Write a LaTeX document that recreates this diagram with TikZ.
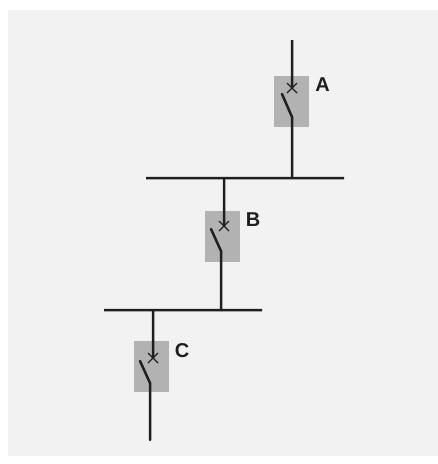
\documentclass[tikz,border=0pt]{standalone}
\usepackage{fontspec}
\setmainfont{Liberation Sans}
\tikzset{
  px/.style={x=1pt,y=-1pt},
  wire/.style={draw=black!88,line width=2.5pt},
  blade/.style={draw=black!88,line width=2.5pt,line cap=round},
  thin x/.style={draw=black!88,line width=1.3pt},
  breaker/.style={fill=black!30,draw=none,minimum width=35pt,minimum height=51pt,inner sep=0pt},
  tag/.style={font=\bfseries\fontsize{20pt}{20pt}\selectfont,text=black!88,inner sep=0pt}
}
\begin{document}
\begin{tikzpicture}[px]
\useasboundingbox (0,0) rectangle (438,464);
\fill[white] (0,0) rectangle (438,464);
\fill[black!5] (8,10) rectangle (438,456);
% breakers
\node[breaker] (ba) at (291.5,101.5) {};
\node[breaker] (bb) at (222.5,236.5) {};
\node[breaker] (bc) at (151.5,366.5) {};
% labels
\node[tag] (la) at (322.5,85) {A};
\node[tag] (lb) at (253,219.5) {B};
\node[tag] (lc) at (182,350.5) {C};
% bus coordinates
\coordinate (b1l) at (146,178);
\coordinate (b1r) at (344,178.06);
\coordinate (b2l) at (104,310);
\coordinate (b2r) at (262,310.06);
\draw[wire] (b1l) -- (b1r);
\draw[wire] (b2l) -- (b2r);
% A
\coordinate (at) at (292,40);
\coordinate (ax) at (292.06,88);
\coordinate (ah) at (292,117);
\coordinate (ab) at (282,94);
\coordinate (a1) at (292.06,178);
\draw[wire] (at) -- (ax);
\draw[blade] (ab) -- (ah) -- (a1);
\draw[thin x] (287,83) -- (297,93) (287,93) -- (297,83);
% B
\coordinate (bt) at (224,178);
\coordinate (bx) at (224.06,226);
\coordinate (bh) at (221,251);
\coordinate (bk) at (211,229);
\coordinate (b2) at (221.06,310);
\draw[wire] (bt) -- (bx);
\draw[blade] (bk) -- (bh) -- (b2);
\draw[thin x] (219,221) -- (229,231) (219,231) -- (229,221);
% C
\coordinate (ct) at (153,310);
\coordinate (cx) at (153.06,358);
\coordinate (ch) at (150,383);
\coordinate (ck) at (140,361);
\coordinate (ce) at (150.06,440);
\draw[wire] (ct) -- (cx);
\draw[blade] (ck) -- (ch) -- (ce);
\draw[thin x] (148,353) -- (158,363) (148,363) -- (158,353);
\end{tikzpicture}
\end{document}
